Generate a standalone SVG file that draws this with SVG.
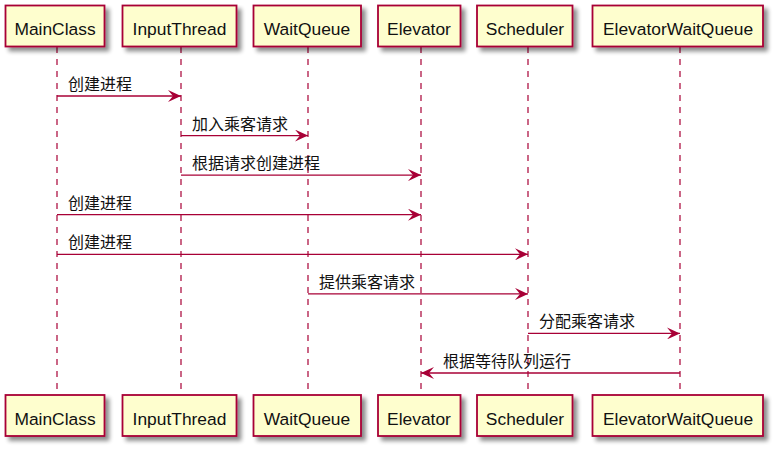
<svg xmlns="http://www.w3.org/2000/svg" width="780" height="452" viewBox="0 0 780 452">
<defs>
<filter id="sh" x="-10%" y="-10%" width="130%" height="150%">
<feGaussianBlur in="SourceAlpha" stdDeviation="2"/>
<feOffset dx="4" dy="4" result="b"/>
<feComponentTransfer><feFuncA type="linear" slope="0.45"/></feComponentTransfer>
<feMerge><feMergeNode/><feMergeNode in="SourceGraphic"/></feMerge>
</filter>
<marker id="ah" markerWidth="14" markerHeight="12" refX="13" refY="6" orient="auto" markerUnits="userSpaceOnUse">
<polygon points="0,0 13,6 0,12 5,6" fill="#A80036"/>
</marker>
</defs>
<style>
.box{fill:#FEFECE;stroke:#A80036;stroke-width:1.8;filter:url(#sh)}
.life{stroke:#A80036;stroke-width:1.2;stroke-dasharray:6,6;fill:none}
.msg{stroke:#A80036;stroke-width:1.3;fill:none;marker-end:url(#ah)}
.pt{font-family:"Liberation Sans",Arial,sans-serif;font-size:17.4px;fill:#111;text-anchor:middle}
.ml{font-family:"Noto Sans CJK SC","Liberation Sans",sans-serif;font-size:16px;fill:#111}
</style>
<rect width="780" height="452" fill="#fff"/>
<g id="lifelines">
<line class="life" x1="57" y1="47" x2="57" y2="395"/>
<line class="life" x1="181" y1="47" x2="181" y2="395"/>
<line class="life" x1="308" y1="47" x2="308" y2="395"/>
<line class="life" x1="421" y1="47" x2="421" y2="395"/>
<line class="life" x1="528" y1="47" x2="528" y2="395"/>
<line class="life" x1="680" y1="47" x2="680" y2="395"/>
</g>
<g id="MainClass">
<rect class="box" x="5.5" y="5.5" width="99" height="41"/><text class="pt" x="55" y="35">MainClass</text>
<rect class="box" x="5.5" y="395" width="99" height="41"/><text class="pt" x="55" y="424.5">MainClass</text>
</g>
<g id="InputThread">
<rect class="box" x="122.5" y="5.5" width="114" height="41"/><text class="pt" x="179.5" y="35">InputThread</text>
<rect class="box" x="122.5" y="395" width="114" height="41"/><text class="pt" x="179.5" y="424.5">InputThread</text>
</g>
<g id="WaitQueue">
<rect class="box" x="253.5" y="5.5" width="107.5" height="41"/><text class="pt" x="307" y="35">WaitQueue</text>
<rect class="box" x="253.5" y="395" width="107.5" height="41"/><text class="pt" x="307" y="424.5">WaitQueue</text>
</g>
<g id="Elevator">
<rect class="box" x="378" y="5.5" width="82.5" height="41"/><text class="pt" x="419" y="35">Elevator</text>
<rect class="box" x="378" y="395" width="82.5" height="41"/><text class="pt" x="419" y="424.5">Elevator</text>
</g>
<g id="Scheduler">
<rect class="box" x="477" y="5.5" width="95.5" height="41"/><text class="pt" x="525" y="35">Scheduler</text>
<rect class="box" x="477" y="395" width="95.5" height="41"/><text class="pt" x="525" y="424.5">Scheduler</text>
</g>
<g id="ElevatorWaitQueue">
<rect class="box" x="592.5" y="5.5" width="170.5" height="41"/><text class="pt" x="678" y="35">ElevatorWaitQueue</text>
<rect class="box" x="592.5" y="395" width="170.5" height="41"/><text class="pt" x="678" y="424.5">ElevatorWaitQueue</text>
</g>
<g id="connectors">
<line class="msg" x1="57" y1="96" x2="181" y2="96"/>
<line class="msg" x1="181" y1="135.6" x2="308" y2="135.6"/>
<line class="msg" x1="181" y1="175.1" x2="421" y2="175.1"/>
<line class="msg" x1="57" y1="214.7" x2="421" y2="214.7"/>
<line class="msg" x1="57" y1="254.3" x2="528" y2="254.3"/>
<line class="msg" x1="308" y1="293.9" x2="528" y2="293.9"/>
<line class="msg" x1="528" y1="333.4" x2="680" y2="333.4"/>
<line class="msg" x1="680" y1="373" x2="421" y2="373"/>
</g>
<g id="labels">
<text class="ml" x="68" y="90">创建进程</text>
<text class="ml" x="192" y="129.6">加入乘客请求</text>
<text class="ml" x="192" y="169.1">根据请求创建进程</text>
<text class="ml" x="68" y="208.7">创建进程</text>
<text class="ml" x="68" y="248.3">创建进程</text>
<text class="ml" x="319" y="287.9">提供乘客请求</text>
<text class="ml" x="539" y="327.4">分配乘客请求</text>
<text class="ml" x="443" y="367">根据等待队列运行</text>
</g>
</svg>
